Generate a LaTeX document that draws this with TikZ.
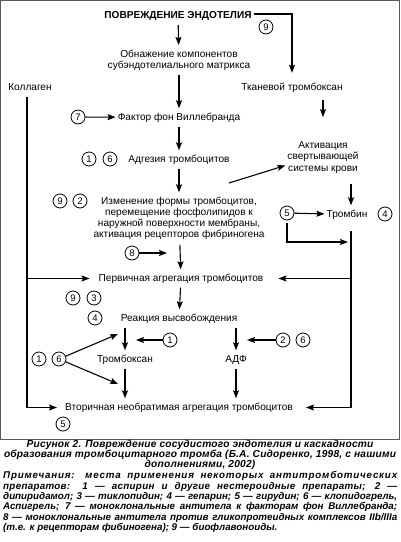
\documentclass[tikz,border=0pt]{standalone}
\usepackage{fontspec}
\setmainfont{Liberation Sans}
\usetikzlibrary{arrows.meta,calc}
\begin{document}
\begin{tikzpicture}[x=1pt,y=-1pt,
  lbl/.style={inner xsep=2pt, inner ysep=4.5pt, font=\fontsize{10.1}{11.5}\selectfont, text height=7pt, text depth=2pt},
  mlbl/.style={inner xsep=2pt, inner ysep=4.5pt, font=\fontsize{10.1}{11.2}\selectfont, align=center},
  num/.style={circle, draw, line width=0.8pt, minimum size=14pt, inner sep=0pt, font=\fontsize{9.5}{10}\selectfont},
  arr/.style={line width=1.1pt, -{Stealth[length=8pt,width=6pt,inset=1.5pt]}},
  capf/.style={inner sep=0pt, font=\fontsize{10.2}{10}\selectfont\bfseries\itshape\addfontfeature{LetterSpace=2}, align=center},
  notef/.style={inner sep=0pt, font=\fontsize{9.8}{10.3}\selectfont\bfseries\itshape, anchor=north west, align=left}]
\useasboundingbox (0,0) rectangle (400,542);
\draw[line width=1pt, gray!70!black] (0.5,0.5) rectangle (399.5,439.5);

% text nodes
\node[lbl, font=\fontsize{10.1}{11.5}\selectfont\bfseries] (title) at (178,16) {ПОВРЕЖДЕНИЕ ЭНДОТЕЛИЯ};
\node[mlbl] (obn) at (179,60) {Обнажение компонентов\\субэндотелиального матрикса};
\node[lbl] (koll) at (30,88) {Коллаген};
\node[lbl] (tkan) at (292,88) {Тканевой тромбоксан};
\node[lbl] (vwf) at (179,117.5) {Фактор фон Виллебранда};
\node[lbl] (adg) at (179,159.5) {Адгезия тромбоцитов};
\node[mlbl] (akt) at (323,157.5) {Активация\\свертывающей\\системы крови};
\node[mlbl] (izm) at (179,218.5) {Изменение формы тромбоцитов,\\перемещение фосфолипидов к\\наружной поверхности мембраны,\\активация рецепторов фибриногена};
\node[lbl] (trb) at (347,214.5) {Тромбин};
\node[lbl] (perv) at (181,278.5) {Первичная агрегация тромбоцитов};
\node[lbl] (react) at (179,318.5) {Реакция высвобождения};
\node[lbl] (tbx) at (125,359.5) {Тромбоксан};
\node[lbl] (adf) at (236,359.5) {АДФ};
\node[lbl] (vtor) at (179,407.5) {Вторичная необратимая агрегация тромбоцитов};

% numbered circles
\node[num] (c9t) at (266,27) {9};
\node[num] (c7) at (78,117) {7};
\node[num] (c1a) at (89,159) {1};
\node[num] (c6a) at (110,159) {6};
\node[num] (c9a) at (60,201) {9};
\node[num] (c2a) at (80,201) {2};
\node[num] (c5a) at (287,213) {5};
\node[num] (c4a) at (385,214) {4};
\node[num] (c8) at (132,253) {8};
\node[num] (c9b) at (73,298) {9};
\node[num] (c3) at (94,298) {3};
\node[num] (c4b) at (95,318) {4};
\node[num] (c1b) at (170,340) {1};
\node[num] (c2b) at (283,340) {2};
\node[num] (c6b) at (303,340) {6};
\node[num] (c1c) at (39,359) {1};
\node[num] (c6c) at (59,359) {6};
\node[num] (c5b) at (63,424) {5};

% helper coordinates
\coordinate (izout) at (229,183);
\coordinate (rtop) at (351,231);
\coordinate (rin) at (348,242);
\coordinate (vx) at (351,0);
\coordinate (t1) at (118,334);
\coordinate (t2) at (118,384);

% connectors
\draw[arr] (title) -- (obn);
\draw[arr, shorten >=6pt] ([yshift=2pt]title.east) -| (tkan.north);
\draw[arr] (obn) -- (vwf);
\draw[arr, shorten >=6pt] ([xshift=-3pt]koll.south) |- (vtor.west);
\draw[arr, shorten >=7pt] ([xshift=-3pt]koll.south |- perv) -- (perv.west);
\draw[arr, shorten <=3pt, shorten >=20pt] (akt.north |- tkan.south) -- (akt.north);
\draw[arr] (c7) -- (vwf);
\draw[arr] (vwf) -- (adg);
\draw[arr] (adg) -- (izm);
\draw[arr] (izout) -- ([yshift=-8pt]akt.west);
\draw[arr, shorten <=6pt] (akt.south -| vx) -- (trb.north -| vx);
\draw[arr] (c5a) -- (trb);
\draw[arr, shorten <=3pt] (c5a) |- (rin);
\draw[arr, shorten >=11pt] (rtop) |- (vtor.east);
\draw[arr, shorten >=13pt] (rtop |- perv) -- (perv.east);
\draw[arr] (c8) -- ([xshift=-12pt]c8 -| izm);
\draw[arr] (izm) -- (perv);
\draw[arr] (perv) -- (react);
\draw[arr] (react.south -| tbx) -- (tbx.north);
\draw[arr] (react.south -| adf) -- (adf.north);
\draw[arr] (c1b) -- ([xshift=11pt]c1b -| tbx);
\draw[arr] (c2b) -- ([xshift=11pt]c2b -| adf);
\draw[arr] (c6c) -- (t1);
\draw[arr] (c6c) -- (t2);
\draw[arr] (tbx) -- (tbx |- vtor.north);
\draw[arr] (adf) -- (adf |- vtor.north);

% caption and notes
\node[capf] (cap) at (200,454.5) {Рисунок 2. Повреждение сосудистого эндотелия и каскадности\\образования тромбоцитарного тромба (Б.А. Сидоренко, 1998, с нашими\\дополнениями, 2002)};
\node[notef] (note) at (3,471.5) {%
\makebox[394pt][s]{\addfontfeature{LetterSpace=8}Примечания: места применения некоторых антитромботических}\\
\makebox[394pt][s]{\addfontfeature{LetterSpace=3}препаратов: 1 — аспирин и другие нестероидные препараты; 2 —}\\
\makebox[394pt][s]{дипиридамол; 3 — тиклопидин; 4 — гепарин; 5 — гирудин; 6 — клопидогрель,}\\
\makebox[394pt][s]{Аспигрель; 7 — моноклональные антитела к факторам фон Виллебранда;}\\
\makebox[394pt][s]{8 — моноклональные антитела против гликопротеидных комплексов IIb/IIIa}\\
(т.е. к рецепторам фибиногена); 9 — биофлавоноиды.};
\end{tikzpicture}
\end{document}
